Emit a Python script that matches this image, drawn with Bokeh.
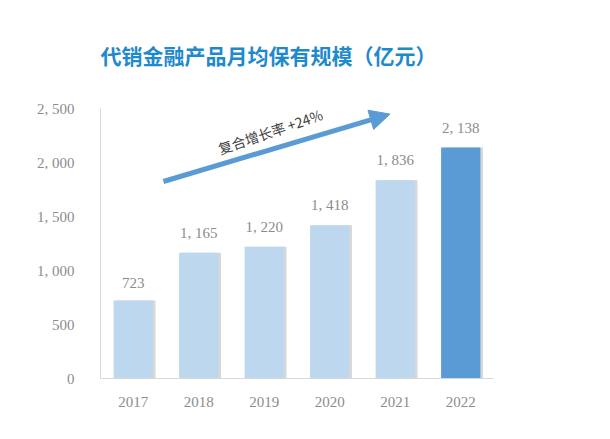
from bokeh.plotting import figure
from bokeh.models import ColumnDataSource, FactorRange, Range1d, FixedTicker, Arrow, NormalHead, Label, LabelSet
from bokeh.transform import dodge
from bokeh.embed import file_html
from bokeh.resources import INLINE
from bokeh.core.properties import value
import math

years = ["2017", "2018", "2019", "2020", "2021", "2022"]
values = [723, 1165, 1220, 1418, 1836, 2138]
labels = ["723", "1, 165", "1, 220", "1, 418", "1, 836", "2, 138"]
colors = ["#BDD7EE", "#BDD7EE", "#BDD7EE", "#BDD7EE", "#BDD7EE", "#5B9BD5"]
y_ticks = [0, 500, 1000, 1500, 2000, 2500]
y_tick_labels = {0: "0", 500: "500", 1000: "1, 000", 1500: "1, 500", 2000: "2, 000", 2500: "2, 500"}
title_text = "代销金融产品月均保有规模（亿元）"

src = ColumnDataSource(dict(x=years, v=values, lab=labels, c=colors))

p = figure(width=602, height=431, x_range=FactorRange(*years), y_range=Range1d(0, 2500),
           output_backend="svg", toolbar_location=None,
           min_border_left=100, min_border_right=109, min_border_top=108, min_border_bottom=53)
p.outline_line_color = None
p.xgrid.grid_line_color = None
p.ygrid.grid_line_color = None
p.background_fill_color = "white"
p.border_fill_color = "white"

# shadow
p.vbar(x=dodge("x", 0.04, range=p.x_range), top="v", width=0.6, source=src,
       fill_color="#c8c8c8", line_color=None, fill_alpha=0.7)
p.vbar(x="x", top="v", width=0.6, source=src, fill_color="c", line_color=None)

ls = LabelSet(x="x", y="v", text="lab", source=src, text_align="center", y_offset=12,
              text_font=value("Liberation Serif"), text_font_size="15px", text_color="#8c8c8c")
p.add_layout(ls)

p.yaxis.ticker = FixedTicker(ticks=y_ticks)
p.yaxis.major_label_overrides = y_tick_labels
for ax in (p.xaxis, p.yaxis):
    ax.major_tick_line_color = None
    ax.minor_tick_line_color = None
    ax.axis_line_color = "#d9d9d9"
    ax.major_label_text_color = "#8c8c8c"
    ax.major_label_text_font = "Liberation Serif"
    ax.major_label_text_font_size = "15px"
p.yaxis.major_label_standoff = 20
p.xaxis.major_label_standoff = 12

# growth arrow
p.add_layout(Arrow(end=NormalHead(size=20, fill_color="#5B9BD5", line_color="#5B9BD5"),
                   x_start=0.96, y_start=1824, x_end=4.42, y_end=2448,
                   line_color="#5B9BD5", line_width=5))
ang = math.atan2(67, 225) + 0.04
p.add_layout(Label(x=2.64, y=2200, text="复合增长率 +24%", angle=ang, text_align="center",
                   text_font="Noto Sans CJK SC", text_font_size="14px", text_color="#404040"))

p.title.text = title_text
p.title.text_font = "Noto Sans CJK SC"
p.title.text_font_size = "21px"
p.title.text_color = "#1F8ACB"
p.title.align = "left"
p.title.vertical_align = "top"
p.title.offset = 0
p.title.standoff = 74

open("out.html", "w").write(file_html(p, INLINE))
